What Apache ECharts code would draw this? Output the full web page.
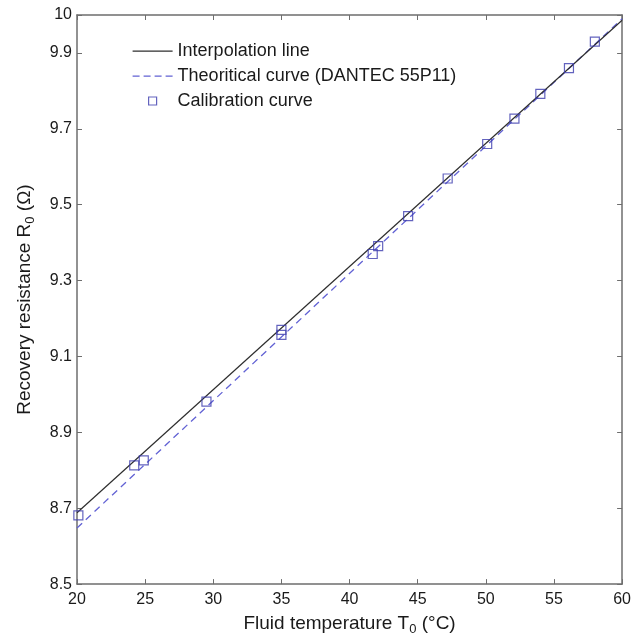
<!DOCTYPE html>
<html>
<head>
<meta charset="utf-8">
<script src="https://cdn.jsdelivr.net/npm/echarts@6/dist/echarts.min.js"></script>
<style>
html,body{margin:0;padding:0;background:#fff;}
#chart{width:634px;height:641px;}
</style>
</head>
<body>
<div id="chart"></div>
<script>
// Data
var seriesNames = ['Interpolation line', 'Theoritical curve (DANTEC 55P11)', 'Calibration curve'];
var calibT = [20.1, 24.2, 24.9, 29.5, 35.0, 35.0, 41.7, 42.1, 44.3, 47.2, 50.1, 52.1, 54.0, 56.1, 58.0];
var calibR = [8.681, 8.813, 8.826, 8.981, 9.170, 9.157, 9.370, 9.391, 9.470, 9.569, 9.660, 9.727, 9.792, 9.860, 9.930];
var interpT = [20, 60];
var interpR = [8.688, 9.986];
var theoT = [20, 60];
var theoR = [8.648, 9.990];
var xTicks = [20, 25, 30, 35, 40, 45, 50, 55, 60];
var yTicks = [8.5, 8.7, 8.9, 9.1, 9.3, 9.5, 9.7, 9.9, 10];

function zip(a, b) { return a.map(function (v, i) { return [v, b[i]]; }); }

var FONT = 'Liberation Sans, Arial, sans-serif';
var axisCol = '#6e6e6e';
var solidCol = '#2e2e2e';
var dashCol = '#6262d4';
var markCol = '#3c3cae';

var chart = echarts.init(document.getElementById('chart'), null, {renderer: 'canvas'});

var baseAxis = {
  axisLine: {show: true, onZero: false, lineStyle: {color: axisCol, width: 1.5}},
  axisTick: {show: true, inside: true, length: 5, lineStyle: {color: axisCol, width: 1}},
  splitLine: {show: false}
};

var nameRich = {
  a: {fontFamily: FONT, fontSize: 19, color: '#1a1a1a', lineHeight: 22},
  s: {fontFamily: FONT, fontSize: 13, color: '#1a1a1a', lineHeight: 22, padding: [11, 0, 0, 0]}
};

var option = {
  backgroundColor: '#ffffff',
  animation: false,
  grid: {left: 77, right: 11, top: 15, bottom: 54, containLabel: false},
  legend: {
    orient: 'vertical',
    left: 127,
    top: 37,
    itemWidth: 40,
    itemHeight: 14,
    itemGap: 7,
    symbolKeepAspect: true,
    textStyle: {fontFamily: FONT, fontSize: 18, color: '#1a1a1a'},
    data: [
      {name: seriesNames[0], icon: 'path://M0,0M40,14M0,6.4L40,6.4L40,7.8L0,7.8Z',
       itemStyle: {color: solidCol, borderWidth: 0}},
      {name: seriesNames[1], icon: 'path://M0,0M40,14M0,6.4L7,6.4L7,7.7L0,7.7ZM11,6.4L18,6.4L18,7.7L11,7.7ZM22,6.4L29,6.4L29,7.7L22,7.7ZM33,6.4L40,6.4L40,7.7L33,7.7Z',
       itemStyle: {color: dashCol, borderWidth: 0}},
      {name: seriesNames[2], icon: 'path://M0,0M40,14M16,3L24,3L24,11L16,11Z',
       itemStyle: {color: 'rgba(0,0,0,0)', borderColor: markCol, borderWidth: 1.2}}
    ]
  },
  xAxis: [
    Object.assign({}, baseAxis, {
      type: 'value', position: 'bottom', min: xTicks[0], max: xTicks[xTicks.length - 1], interval: 5,
      axisLabel: {show: true, margin: 7, fontFamily: FONT, fontSize: 16, color: '#1a1a1a'},
      name: '{a|Fluid temperature T}{s|0}{a| (°C)}',
      nameLocation: 'middle', nameGap: 23,
      nameTextStyle: {rich: nameRich}
    }),
    Object.assign({}, baseAxis, {
      type: 'value', position: 'top', min: xTicks[0], max: xTicks[xTicks.length - 1], interval: 5,
      axisLabel: {show: false}
    })
  ],
  yAxis: [
    Object.assign({}, baseAxis, {
      type: 'value', position: 'left', min: yTicks[0], max: yTicks[yTicks.length - 1], interval: 0.2,
      axisLabel: {show: true, margin: 5, fontFamily: FONT, fontSize: 16, color: '#1a1a1a',
        formatter: function (v) { return String(Math.round(v * 10) / 10); }},
      name: '{a|Recovery resistance R}{s|0}{a| (Ω)}',
      nameLocation: 'middle', nameGap: 41, nameRotate: 90,
      nameTextStyle: {rich: nameRich}
    }),
    Object.assign({}, baseAxis, {
      type: 'value', position: 'right', min: yTicks[0], max: yTicks[yTicks.length - 1], interval: 0.2,
      axisLabel: {show: false}
    })
  ],
  series: [
    {
      name: seriesNames[0], type: 'line', data: zip(interpT, interpR),
      symbol: 'none', lineStyle: {color: solidCol, width: 1.2, type: 'solid'},
      itemStyle: {color: solidCol}, z: 3
    },
    {
      name: seriesNames[1], type: 'line', data: zip(theoT, theoR),
      symbol: 'none', lineStyle: {color: dashCol, width: 1.3, type: [7, 5]},
      itemStyle: {color: dashCol}, z: 2
    },
    {
      name: seriesNames[2], type: 'scatter', data: zip(calibT, calibR),
      symbol: 'rect', symbolSize: 9,
      itemStyle: {color: 'rgba(0,0,0,0)', borderColor: markCol, borderWidth: 1.2}, z: 4
    }
  ]
};

chart.setOption(option);
</script>
</body>
</html>
